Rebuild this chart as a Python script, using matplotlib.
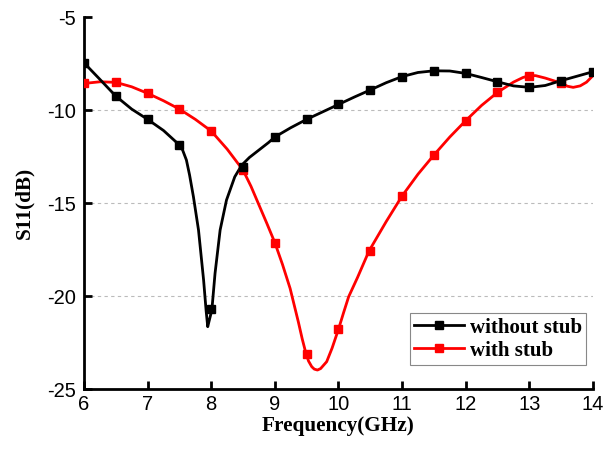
import matplotlib
matplotlib.use("Agg")
import matplotlib.pyplot as plt

# Curve points (GHz, dB)
freq_wo = [6.0, 6.25, 6.5, 6.75, 7.0, 7.25, 7.5, 7.55, 7.61, 7.66, 7.72, 7.80, 7.88, 7.92,
           7.945, 7.97, 8.01, 8.06, 8.14, 8.24, 8.37, 8.48, 8.6, 8.75, 8.9, 9.0, 9.25, 9.5,
           9.75, 10.0, 10.25, 10.5, 10.75, 11.0, 11.25, 11.5, 11.75, 12.0, 12.25, 12.5,
           12.75, 13.0, 13.25, 13.5, 13.75, 14.0]
s11_wo = [-7.46, -8.35, -9.25, -9.95, -10.5, -11.1, -11.88, -12.15, -12.69, -13.5, -14.66,
          -16.45, -19.14, -20.8, -21.65, -21.3, -20.75, -18.78, -16.45, -14.84, -13.59,
          -12.96, -12.55, -12.15, -11.75, -11.45, -10.95, -10.5, -10.1, -9.7, -9.3, -8.92,
          -8.53, -8.2, -7.98, -7.89, -7.9, -8.03, -8.25, -8.48, -8.7, -8.78, -8.68, -8.42,
          -8.18, -7.94]

freq_w = [6.0, 6.25, 6.5, 6.75, 7.0, 7.25, 7.5, 7.75, 8.0, 8.25, 8.5, 8.625, 8.75, 8.875,
          9.0, 9.12, 9.24, 9.37, 9.43, 9.49, 9.53, 9.58, 9.62, 9.67, 9.72, 9.815, 9.9,
          10.0, 10.08, 10.16, 10.3, 10.48, 10.75, 11.0, 11.25, 11.5, 11.75, 12.0, 12.25,
          12.5, 12.75, 12.9, 13.0, 13.1, 13.25, 13.5, 13.6, 13.69, 13.8, 13.9, 14.0]
s11_w = [-8.57, -8.48, -8.51, -8.75, -9.1, -9.5, -9.95, -10.5, -11.13, -12.1, -13.23,
         -14.1, -15.1, -16.1, -17.13, -18.3, -19.59, -21.4, -22.3, -23.1, -23.5, -23.8,
         -23.93, -23.98, -23.9, -23.53, -22.8, -21.79, -20.9, -20.04, -19.0, -17.58, -16.0,
         -14.62, -13.45, -12.42, -11.45, -10.57, -9.75, -9.05, -8.5, -8.25, -8.15, -8.15,
         -8.28, -8.55, -8.72, -8.78, -8.7, -8.5, -8.15]

# Marker positions (every 0.5 GHz)
mk_freq_wo = [6.0, 6.5, 7.0, 7.5, 8.0, 8.5, 9.0, 9.5, 10.0, 10.5, 11.0, 11.5, 12.0, 12.5,
              13.0, 13.5, 14.0]
mk_s11_wo = [-7.46, -9.25, -10.5, -11.88, -20.7, -13.05, -11.45, -10.5, -9.7, -8.92, -8.2,
             -7.89, -8.03, -8.48, -8.78, -8.42, -7.94]
mk_freq_w = [6.0, 6.5, 7.0, 7.5, 8.0, 8.5, 9.0, 9.5, 10.0, 10.5, 11.0, 11.5, 12.0, 12.5,
             13.0, 13.5]
mk_s11_w = [-8.57, -8.51, -9.1, -9.95, -11.13, -13.23, -17.13, -23.1, -21.79, -17.58,
            -14.62, -12.42, -10.57, -9.05, -8.15, -8.55]

labels = ["without stub", "with stub"]
xticks = [6, 7, 8, 9, 10, 11, 12, 13, 14]
yticks = [-25, -20, -15, -10, -5]

fig = plt.figure(figsize=(6.10, 4.49), dpi=100)
ax = fig.add_axes([0.1377, 0.1336, 0.972 - 0.1377, 0.962 - 0.1336])

lw = 2.0
ms = 5.5
ax.plot(freq_w, s11_w, color="#ff0000", lw=lw, zorder=3, solid_joinstyle="round")
ax.plot(mk_freq_w, mk_s11_w, ls="none", marker="s", ms=ms, color="#ff0000", zorder=4)
ax.plot(freq_wo, s11_wo, color="black", lw=lw, zorder=3, solid_joinstyle="round")
ax.plot(mk_freq_wo, mk_s11_wo, ls="none", marker="s", ms=ms, color="black", zorder=4)

h1, = ax.plot([], [], color="black", lw=lw, marker="s", ms=ms)
h2, = ax.plot([], [], color="#ff0000", lw=lw, marker="s", ms=ms)
leg = ax.legend([h1, h2], labels, loc="lower right", bbox_to_anchor=(0.987, 0.065),
                prop={"family": "Liberation Serif", "weight": "bold", "size": 15},
                frameon=True, fancybox=False, edgecolor="#888888", framealpha=1,
                handlelength=2.4, handletextpad=0.3, borderpad=0.2, labelspacing=0.15,
                borderaxespad=0.0)
leg.get_frame().set_linewidth(0.8)

ax.set_xlim(6, 14)
ax.set_ylim(-25, -5)
ax.set_xticks(xticks)
ax.set_yticks(yticks)
ax.set_xticklabels([str(t) for t in xticks])
ax.set_yticklabels([str(t) for t in yticks])

for yv in [-10, -15, -20]:
    ax.axhline(yv, color="#bbbbbb", lw=0.8, ls=(0, (3, 3)), zorder=1)

for s in ["top", "right"]:
    ax.spines[s].set_visible(False)
for s in ["left", "bottom"]:
    ax.spines[s].set_linewidth(2)
ax.tick_params(direction="in", length=6, width=2, labelsize=14.5, pad=4)
ax.tick_params(axis="y", pad=6)
for lab in ax.get_xticklabels() + ax.get_yticklabels():
    lab.set_family("Liberation Sans")

ax.set_xlabel("Frequency(GHz)", family="Liberation Serif", weight="bold", fontsize=15.3,
              labelpad=2)
ax.set_ylabel("S11(dB)", family="Liberation Serif", weight="bold", fontsize=15.3,
              labelpad=9)

fig.savefig("out.png", dpi=100)
